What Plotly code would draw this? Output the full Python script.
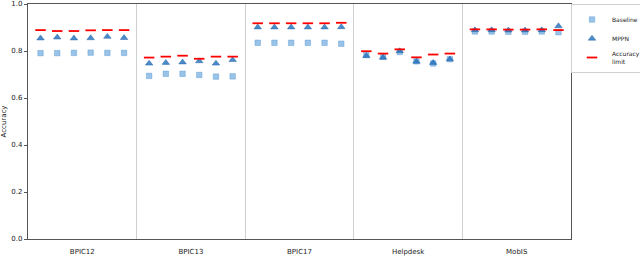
import plotly.graph_objects as go

datasets = ["BPIC12", "BPIC13", "BPIC17", "Helpdesk", "MobIS"]

baseline = {
    "BPIC12":   [0.791, 0.791, 0.792, 0.793, 0.792, 0.792],
    "BPIC13":   [0.694, 0.703, 0.703, 0.698, 0.691, 0.692],
    "BPIC17":   [0.835, 0.835, 0.835, 0.835, 0.835, 0.831],
    "Helpdesk": [0.783, 0.776, 0.796, 0.756, 0.747, 0.765],
    "MobIS":    [0.883, 0.883, 0.882, 0.882, 0.883, 0.880],
}
mppn = {
    "BPIC12":   [0.854, 0.858, 0.854, 0.855, 0.861, 0.856],
    "BPIC13":   [0.747, 0.750, 0.752, 0.757, 0.747, 0.762],
    "BPIC17":   [0.901, 0.901, 0.901, 0.901, 0.901, 0.902],
    "Helpdesk": [0.779, 0.772, 0.800, 0.755, 0.750, 0.765],
    "MobIS":    [0.889, 0.889, 0.888, 0.888, 0.889, 0.906],
}
limit = {
    "BPIC12":   [0.889, 0.885, 0.885, 0.888, 0.889, 0.889],
    "BPIC13":   [0.772, 0.776, 0.780, 0.767, 0.776, 0.776],
    "BPIC17":   [0.918, 0.918, 0.918, 0.918, 0.918, 0.920],
    "Helpdesk": [0.799, 0.789, 0.807, 0.773, 0.785, 0.789],
    "MobIS":    [0.892, 0.892, 0.891, 0.891, 0.892, 0.889],
}
y_ticks = [0.0, 0.2, 0.4, 0.6, 0.8, 1.0]

group_width = 6.5
n_runs = 6

xs, yb, ym, yl = [], [], [], []
for k, d in enumerate(datasets):
    center = k * group_width + group_width / 2
    for i in range(n_runs):
        xs.append(center + (i - (n_runs - 1) / 2))
        yb.append(baseline[d][i])
        ym.append(mppn[d][i])
        yl.append(limit[d][i])

centers = [k * group_width + group_width / 2 for k in range(len(datasets))]

fig = go.Figure()
fig.add_trace(go.Scatter(
    x=xs, y=yb, mode="markers", name="Baseline",
    marker=dict(symbol="square", size=5.5, color="rgba(110,170,222,0.7)",
                line=dict(width=0.6, color="rgba(70,140,205,0.6)")),
))
fig.add_trace(go.Scatter(
    x=xs, y=ym, mode="markers", name="MPPN",
    marker=dict(symbol="triangle-up", size=6.5, color="rgba(31,110,185,0.8)",
                line=dict(width=0.6, color="rgba(31,100,170,0.8)")),
))
fig.add_trace(go.Scatter(
    x=xs, y=yl, mode="markers", name="Accuracy<br>limit",
    marker=dict(symbol="line-ew", size=7.5, color="red",
                line=dict(width=1.8, color="red")),
))

fig.update_layout(
    width=640, height=261,
    margin=dict(l=28, r=69, t=4, b=22, autoexpand=False),
    paper_bgcolor="white", plot_bgcolor="white",
    font=dict(family="DejaVu Sans", size=7, color="#222"),
    showlegend=True,
    legend=dict(x=1.0, y=1.0, xanchor="left", yanchor="top",
                bordercolor="#d0d0d0", borderwidth=1, bgcolor="white",
                font=dict(size=6), tracegroupgap=0, itemwidth=30),
)
fig.update_xaxes(
    range=[0, group_width * len(datasets)],
    tickmode="array", tickvals=centers, ticktext=datasets,
    ticks="", showgrid=False, zeroline=False,
    showline=True, linecolor="#555", linewidth=1.2, mirror=True,
    minor=dict(tick0=0, dtick=group_width, showgrid=True,
               gridcolor="#cfcfcf", gridwidth=1.3, ticks=""),
    tickfont=dict(size=7), ticklabelstandoff=5,
)
fig.update_yaxes(
    range=[0, 1], tickmode="array", tickvals=y_ticks,
    ticktext=[f"{v:.1f}" for v in y_ticks],
    ticks="outside", ticklen=3, tickcolor="#555",
    showgrid=False, zeroline=False,
    showline=True, linecolor="#555", linewidth=1.2, mirror=True,
    title=dict(text="Accuracy", font=dict(size=7), standoff=4),
    tickfont=dict(size=7),
)

fig.write_html(
    "out.html",
    config={"displayModeBar": False},
    post_script="document.body.style.margin='0px';document.body.style.overflow='hidden';",
)
